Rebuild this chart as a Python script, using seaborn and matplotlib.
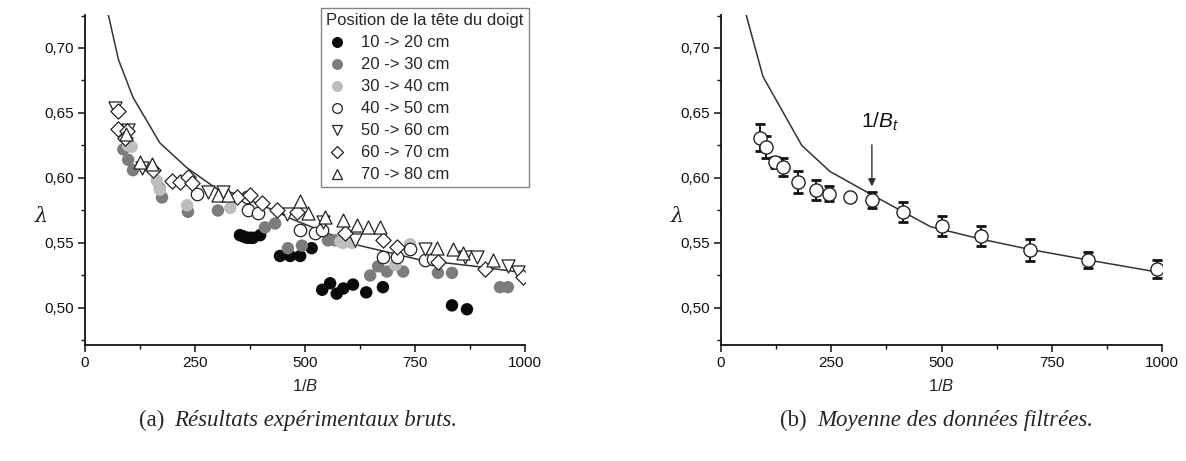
import numpy as np
import pandas as pd
import matplotlib
matplotlib.use("Agg")
import matplotlib.pyplot as plt
import seaborn as sns
from matplotlib.lines import Line2D
from matplotlib.ticker import MultipleLocator, FuncFormatter

# ---------------- data ----------------
series_labels = ["10 -> 20 cm", "20 -> 30 cm", "30 -> 40 cm", "40 -> 50 cm",
                 "50 -> 60 cm", "60 -> 70 cm", "70 -> 80 cm"]

s1_x = [352, 360, 368, 375, 382, 398, 443, 466, 489, 515, 539, 557, 572, 587, 609, 639, 677, 834, 868]
s1_y = [0.556, 0.555, 0.554, 0.554, 0.554, 0.556, 0.540, 0.540, 0.540, 0.546, 0.514, 0.519, 0.511,
        0.515, 0.518, 0.512, 0.516, 0.502, 0.499]

s2_x = [87, 98, 109, 170, 175, 234, 302, 409, 432, 461, 493, 552, 568, 648, 666, 686, 723, 802, 834, 943, 961]
s2_y = [0.622, 0.614, 0.606, 0.592, 0.585, 0.574, 0.575, 0.562, 0.565, 0.546, 0.548, 0.552, 0.552,
        0.525, 0.532, 0.528, 0.528, 0.527, 0.527, 0.516, 0.516]

s3_x = [98, 106, 163, 170, 232, 330, 580, 586, 607, 705, 739]
s3_y = [0.625, 0.624, 0.598, 0.591, 0.579, 0.577, 0.551, 0.550, 0.550, 0.533, 0.549]

s4_x = [254, 368, 371, 393, 489, 523, 539, 677, 709, 739, 773, 791]
s4_y = [0.588, 0.585, 0.575, 0.573, 0.560, 0.558, 0.560, 0.539, 0.539, 0.545, 0.537, 0.538]

s5_x = [68, 98, 130, 280, 313, 459, 541, 614, 773, 864, 891, 961, 984]
s5_y = [0.654, 0.637, 0.608, 0.589, 0.589, 0.572, 0.566, 0.552, 0.545, 0.539, 0.539, 0.532, 0.528]

s6_x = [74, 76, 95, 91, 155, 197, 216, 234, 243, 345, 375, 402, 436, 482, 591, 677, 709, 802, 909, 995]
s6_y = [0.6515, 0.638, 0.636, 0.631, 0.606, 0.598, 0.597, 0.601, 0.596, 0.585, 0.587, 0.581, 0.575,
        0.574, 0.558, 0.552, 0.547, 0.535, 0.530, 0.524]

s7_x = [93, 125, 152, 302, 325, 489, 507, 545, 586, 618, 643, 670, 800, 836, 859, 927]
s7_y = [0.634, 0.612, 0.611, 0.587, 0.587, 0.582, 0.573, 0.570, 0.568, 0.564, 0.562, 0.562, 0.546,
        0.545, 0.542, 0.537]

curve_a_x = [50, 76, 109, 170, 231, 300, 336, 427, 473, 618, 761, 898, 1000]
curve_a_y = [0.730, 0.691, 0.662, 0.627, 0.608, 0.5915, 0.5885, 0.5754, 0.568, 0.5485, 0.537, 0.5316, 0.527]

curve_b_x = [50, 95, 183, 247, 342, 475, 589, 701, 831, 1000]
curve_b_y = [0.734, 0.678, 0.625, 0.605, 0.587, 0.5625, 0.553, 0.545, 0.537, 0.527]

mean_x = [89, 102, 123, 140, 174, 216, 244, 292, 342, 413, 502, 589, 701, 831, 989]
mean_y = [0.631, 0.624, 0.612, 0.6085, 0.597, 0.591, 0.588, 0.585, 0.583, 0.574, 0.563, 0.555,
          0.5446, 0.537, 0.530]
mean_err = [0.0104, 0.0085, 0.004, 0.007, 0.0083, 0.0077, 0.006, 0.0025, 0.006, 0.0077, 0.0077,
            0.0077, 0.0083, 0.006, 0.007]

x_ticks = [0, 250, 500, 750, 1000]
y_ticks = [0.50, 0.55, 0.60, 0.65, 0.70]

# ---------------- style ----------------
sns.set_style("ticks")
plt.rcParams["font.family"] = ["Liberation Sans", "DejaVu Sans"]
plt.rcParams["mathtext.fontset"] = "custom"
plt.rcParams["mathtext.rm"] = "Liberation Sans"
plt.rcParams["mathtext.it"] = "Liberation Sans:italic"

fig = plt.figure(figsize=(11.86, 4.61), dpi=100)
axA = fig.add_axes([0.0717, 0.2516, 0.3710, 0.7159])
axB = fig.add_axes([0.6080, 0.2516, 0.3718, 0.7159])

xs = [s1_x, s2_x, s3_x, s4_x, s5_x, s6_x, s7_x]
ys = [s1_y, s2_y, s3_y, s4_y, s5_y, s6_y, s7_y]
markers = ["o", "o", "o", "o", "v", "D", "^"]
faces = ["#0a0a0a", "#7c7c7c", "#bdbdbd", "white", "white", "white", "white"]
edges = ["none", "none", "none", "#222222", "#222222", "#222222", "#222222"]
sizes = [80, 80, 80, 80, 88, 60, 88]

# curve first
sns.lineplot(x=curve_a_x, y=curve_a_y, ax=axA, color="#333333", lw=1.1, sort=False, zorder=2)
for i in range(7):
    df = pd.DataFrame({"x": xs[i], "y": ys[i]})
    sns.scatterplot(data=df, x="x", y="y", ax=axA, marker=markers[i], s=sizes[i],
                    facecolor=faces[i], edgecolor=edges[i],
                    linewidth=0 if edges[i] == "none" else 0.9, zorder=3 + (i >= 3))

handles = []
for i in range(7):
    handles.append(Line2D([], [], ls="", marker=markers[i], markersize=7 if markers[i] != "D" else 6,
                          markerfacecolor=faces[i],
                          markeredgecolor=faces[i] if edges[i] == "none" else edges[i],
                          markeredgewidth=0.9))
leg = axA.legend(handles, series_labels, title="Position de la tête du doigt",
                 loc="upper right", bbox_to_anchor=(1.008, 1.02), frameon=True, fancybox=False,
                 fontsize=12, title_fontsize=12, handlelength=1.3, handletextpad=0.8,
                 labelspacing=0.42, borderpad=0.3, borderaxespad=0.0)
leg.get_frame().set_edgecolor("#666666")
leg.get_frame().set_linewidth(1.0)
leg._legend_box.align = "left"

# right panel
sns.lineplot(x=curve_b_x, y=curve_b_y, ax=axB, color="#333333", lw=1.1, sort=False, zorder=2)
axB.errorbar(mean_x, mean_y, yerr=mean_err, fmt="none", ecolor="#111111", elinewidth=1.4,
             capsize=3.5, capthick=2.0, zorder=3)
sns.scatterplot(x=mean_x, y=mean_y, ax=axB, marker="o", s=90, facecolor="white",
                edgecolor="#222222", linewidth=1.0, zorder=4)
axB.annotate("", xy=(342, 0.5935), xytext=(342, 0.6255),
             arrowprops=dict(arrowstyle="-|>", color="#333333", lw=1.0, mutation_scale=11,
                             shrinkA=0, shrinkB=0))
axB.text(360, 0.6345, r"1/$B_t$", fontsize=15, ha="center", va="bottom", color="#111111")

fmt = FuncFormatter(lambda v, p: f"{v:.2f}".replace(".", ","))
for ax in (axA, axB):
    ax.set_xlim(0, 1000)
    ax.set_ylim(0.4715, 0.7254)
    ax.set_xticks(x_ticks)
    ax.set_yticks(y_ticks)
    ax.xaxis.set_minor_locator(MultipleLocator(125))
    ax.yaxis.set_minor_locator(MultipleLocator(0.025))
    ax.yaxis.set_major_formatter(fmt)
    ax.tick_params(which="major", direction="out", length=5, width=1.1, labelsize=11,
                   colors="#111111", pad=3)
    ax.tick_params(which="minor", direction="out", length=3, width=1.0, colors="#111111")
    for sp in ("top", "right"):
        ax.spines[sp].set_visible(False)
    for sp in ("left", "bottom"):
        ax.spines[sp].set_linewidth(1.3)
        ax.spines[sp].set_color("#111111")
    ax.set_xlabel(r"1/$B$", fontsize=12, labelpad=6)
    ax.set_ylabel("λ", fontsize=15, family=["DejaVu Serif"], style="italic", rotation=0)
    ax.yaxis.set_label_coords(-0.10, 0.36)
    ax.set_facecolor("white")

fig.text(0.1383, 0.076, "(a)", ha="right", va="baseline", fontsize=16.5, family="Liberation Serif")
fig.text(0.1467, 0.076, "Résultats expérimentaux bruts.", ha="left", va="baseline", fontsize=16.5,
         family="Liberation Serif", style="italic")
fig.text(0.6805, 0.076, "(b)", ha="right", va="baseline", fontsize=16.5, family="Liberation Serif")
fig.text(0.6889, 0.076, "Moyenne des données filtrées.", ha="left", va="baseline", fontsize=16.5,
         family="Liberation Serif", style="italic")

fig.savefig("out.png", dpi=100, facecolor="white")
